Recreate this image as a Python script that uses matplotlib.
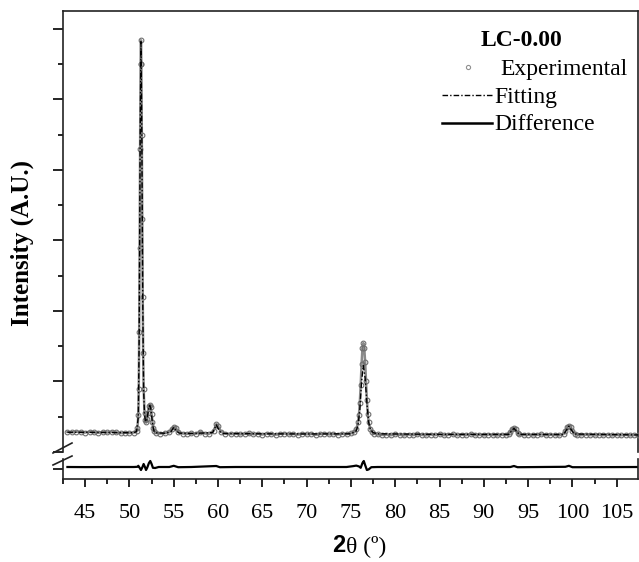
import numpy as np
import matplotlib.pyplot as plt
from matplotlib.lines import Line2D
from matplotlib.ticker import MultipleLocator

# experimental pattern (2theta, intensity a.u.)
two_theta_exp = [
    43.0, 43.5, 44.0, 44.5, 45.0, 45.5, 46.0, 46.5, 47.0, 47.5, 48.0, 48.5,
    49.0, 49.5, 50.0, 50.5, 50.8, 50.9, 51.0, 51.05, 51.1, 51.15, 51.2, 51.25,
    51.3, 51.35, 51.4, 51.45, 51.5, 51.55, 51.6, 51.7, 51.8, 51.9, 52.0, 52.1,
    52.2, 52.3, 52.4, 52.5, 52.6, 52.7, 52.8, 53.0, 53.5, 54.0, 54.5, 54.8,
    55.0, 55.2, 55.5, 56.0, 56.5, 57.0, 57.5, 58.0, 58.5, 59.0, 59.5, 59.8,
    60.0, 60.3, 60.8, 61.5, 62.0, 62.5, 63.0, 63.5, 64.0, 64.5, 65.0, 65.5,
    66.0, 66.5, 67.0, 67.5, 68.0, 68.5, 69.0, 69.5, 70.0, 70.5, 71.0, 71.5,
    72.0, 72.5, 73.0, 73.5, 74.0, 74.5, 75.0, 75.4, 75.6, 75.8, 75.9, 76.0,
    76.1, 76.2, 76.3, 76.4, 76.5, 76.6, 76.7, 76.8, 76.9, 77.0, 77.2, 77.4,
    77.6, 78.0, 78.5, 79.0, 79.5, 80.0, 80.5, 81.0, 81.5, 82.0, 82.5, 83.0,
    83.5, 84.0, 84.5, 85.0, 85.5, 86.0, 86.5, 87.0, 87.5, 88.0, 88.5, 89.0,
    89.5, 90.0, 90.5, 91.0, 91.5, 92.0, 92.5, 92.8, 93.0, 93.2, 93.4, 93.6,
    93.8, 94.0, 94.5, 95.0, 95.5, 96.0, 96.5, 97.0, 97.5, 98.0, 98.5, 99.0,
    99.2, 99.4, 99.6, 99.8, 100.0, 100.3, 100.5, 101.0, 101.5, 102.0, 102.5,
    103.0, 103.5, 104.0, 104.5, 105.0, 105.5, 106.0, 106.5, 107.0, 107.4,
]
intensity_exp = [
    285, 278, 290, 282, 276, 288, 280, 272, 284, 277, 290, 279,
    268, 274, 270, 276, 300, 340, 520, 900, 1700, 2900, 4300, 5500,
    5840, 5500, 4500, 3300, 2200, 1400, 900, 560, 460, 420, 470, 560,
    650, 670, 640, 540, 420, 340, 295, 270, 262, 268, 280, 330,
    360, 340, 290, 262, 258, 265, 258, 285, 262, 258, 300, 395,
    370, 290, 262, 255, 262, 250, 258, 266, 252, 260, 248, 262,
    255, 245, 258, 262, 250, 256, 246, 260, 252, 258, 244, 255,
    262, 250, 256, 248, 260, 252, 265, 285, 320, 420, 520, 700,
    950, 1250, 1470, 1545, 1480, 1280, 1000, 740, 540, 420, 320, 280,
    260, 250, 242, 248, 238, 252, 244, 236, 248, 240, 250, 243,
    236, 248, 240, 252, 238, 245, 250, 237, 246, 240, 252, 238,
    244, 236, 248, 242, 235, 246, 240, 255, 290, 330, 345, 320,
    270, 250, 240, 246, 236, 244, 250, 238, 245, 240, 236, 255,
    300, 360, 375, 350, 300, 260, 245, 238, 246, 240, 235, 244,
    238, 245, 236, 242, 238, 244, 235, 241, 240,
]

# fitted profile
two_theta_fit = [
    43.0, 45.0, 47.0, 49.0, 50.5, 50.8, 51.0, 51.1, 51.2, 51.3, 51.4, 51.5,
    51.6, 51.7, 51.8, 51.9, 52.0, 52.1, 52.2, 52.3, 52.4, 52.5, 52.6, 52.7,
    52.8, 53.0, 54.0, 54.7, 55.0, 55.3, 55.6, 57.0, 59.4, 59.8, 60.2, 60.6,
    65.0, 70.0, 75.0, 75.6, 75.8, 76.0, 76.2, 76.4, 76.6, 76.8, 77.0, 77.2,
    77.5, 78.0, 85.0, 92.8, 93.4, 94.0, 99.0, 99.6, 100.2, 107.4,
]
intensity_fit = [
    280, 279, 277, 274, 274, 290, 500, 1650, 4250, 5820, 4450, 2150,
    880, 540, 440, 430, 480, 560, 640, 660, 620, 520, 410, 330,
    290, 272, 266, 290, 350, 300, 268, 262, 275, 385, 290, 262,
    258, 256, 258, 300, 380, 600, 1000, 1230, 1050, 700, 420, 320,
    275, 258, 250, 250, 335, 250, 248, 365, 255, 242,
]

# difference curve (lower panel)
two_theta_diff = [
    43.0, 45.0, 48.0, 50.5, 50.9, 51.0, 51.15, 51.3, 51.45, 51.6, 51.75, 51.87,
    52.0, 52.2, 52.35, 52.5, 52.65, 52.9, 53.3, 54.5, 55.0, 55.5, 57.0, 59.8,
    60.2, 62.0, 74.5, 75.2, 75.6, 75.9, 76.1, 76.3, 76.45, 76.6, 76.8, 77.0,
    77.3, 78.0, 93.0, 93.4, 93.8, 99.2, 99.6, 100.0, 101.0, 107.4,
]
intensity_diff = [
    100, 95, 100, 100, 110, 160, 60, -50, 80, 250, 100, -50,
    60, 300, 400, 250, 60, 50, 100, 100, 160, 90, 100, 150,
    90, 100, 100, 140, 170, 130, 60, 300, 400, 200, -50, -20,
    90, 100, 100, 150, 90, 110, 160, 90, 90, 100,
]

plt.rcParams["font.family"] = "Liberation Serif"

W, H = 639, 562
fig = plt.figure(figsize=(W / 100, H / 100), dpi=100)

ax = fig.add_axes([63 / W, (H - 452) / H, 575 / W, 441 / H])
axd = fig.add_axes([63 / W, (H - 479) / H, 575 / W, 20 / H], sharex=ax)

# experimental: gray band with open circles on top
ax.plot(two_theta_exp, intensity_exp, color="#8a8a8a", lw=1.8,
        solid_joinstyle="round", zorder=2)
ax.plot(two_theta_exp, intensity_exp, "o", ms=3.4, mfc="none", mec="#6e6e6e",
        mew=0.8, zorder=3)
ax.plot(two_theta_fit, intensity_fit, color="black", lw=1.0,
        dashes=(4, 1.5, 1, 1.5), zorder=4)
axd.plot(two_theta_diff, intensity_diff, color="black", lw=1.6)

ax.set_xlim(42.5, 107.4)
ax.set_ylim(0, 6255)
axd.set_ylim(-500, 500)

for a in (ax, axd):
    for s in a.spines.values():
        s.set_linewidth(1.2)
        s.set_color("#222222")
ax.spines["bottom"].set_visible(False)
axd.spines["top"].set_visible(False)

ax.yaxis.set_major_locator(MultipleLocator(1000))
ax.yaxis.set_minor_locator(MultipleLocator(500))
ax.tick_params(axis="y", which="major", length=7, width=1.2, labelleft=False)
ax.tick_params(axis="y", which="minor", length=3.5, width=1.2)
ax.tick_params(axis="x", which="both", bottom=False, labelbottom=False)

axd.set_yticks([0])
axd.tick_params(axis="y", which="major", length=7, width=1.2, labelleft=False)
axd.xaxis.set_major_locator(MultipleLocator(5))
axd.xaxis.set_minor_locator(MultipleLocator(2.5))
axd.tick_params(axis="x", which="major", length=6, width=1.2, pad=12,
                labelsize=16)
axd.tick_params(axis="x", which="minor", length=3.5, width=1.2)

# axis break marks
for y0, y1 in [(453, 443), (465, 456)]:
    fig.add_artist(Line2D([53 / W, 72 / W], [(H - y0) / H, (H - y1) / H],
                          transform=fig.transFigure, color="#222222", lw=1.2))

fig.text(22 / W, (H - 243) / H, "Intensity (A.U.)", rotation=90,
         ha="center", va="center", fontsize=18, fontweight="bold")
fig.text(345 / W, (H - 546) / H, "2", ha="right", va="center",
         fontsize=17, fontweight="bold", family="Liberation Sans")
fig.text(346 / W, (H - 546) / H, "θ (º)", ha="left", va="center",
         fontsize=17)

# legend
fig.text(521 / W, (H - 40) / H, "LC-0.00", ha="center", va="center",
         fontsize=17, fontweight="bold")
fig.add_artist(Line2D([468 / W], [(H - 67) / H], transform=fig.transFigure,
                      ls="none", marker="o", ms=3, mfc="none", mec="#909090",
                      mew=0.8))
fig.text(500 / W, (H - 69) / H, "Experimental", ha="left", va="center",
         fontsize=17)
fig.add_artist(Line2D([442 / W, 492 / W], [(H - 95) / H] * 2,
                      transform=fig.transFigure, color="black", lw=1.0,
                      dashes=(4, 1.5, 1, 1.5)))
fig.text(494 / W, (H - 97) / H, "Fitting", ha="left", va="center",
         fontsize=17)
fig.add_artist(Line2D([442 / W, 492 / W], [(H - 123) / H] * 2,
                      transform=fig.transFigure, color="black", lw=1.8))
fig.text(494 / W, (H - 125) / H, "Difference", ha="left", va="center",
         fontsize=17)

fig.savefig("out.png", dpi=100)
